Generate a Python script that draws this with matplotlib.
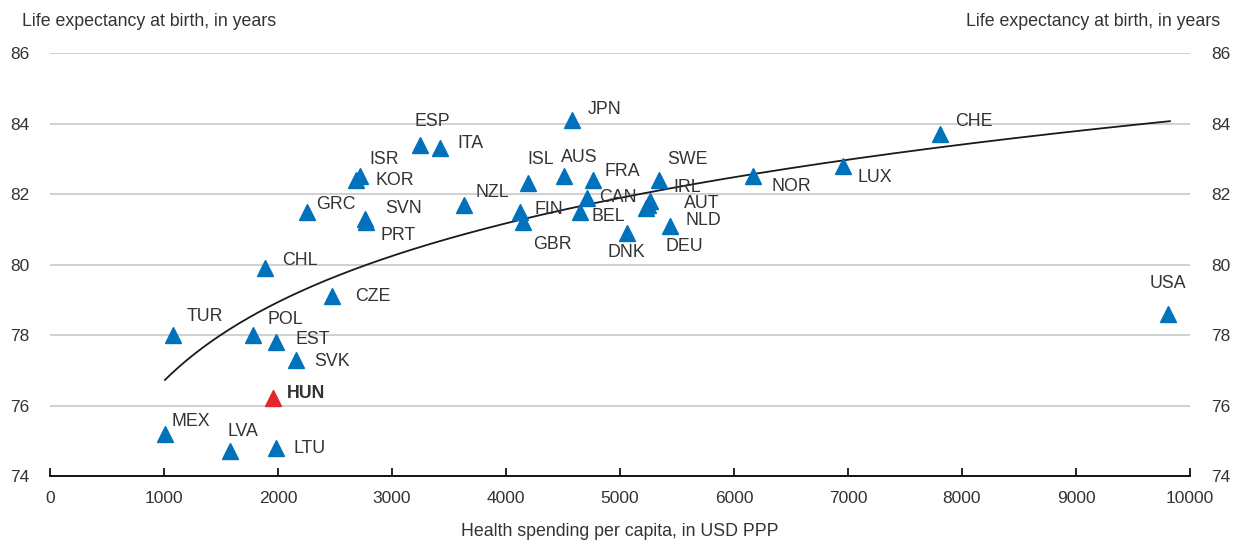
import matplotlib
matplotlib.use("Agg")
import matplotlib.pyplot as plt
import numpy as np

plt.rcParams['font.family'] = ['Liberation Sans', 'DejaVu Sans']

countries = ["MEX", "LVA", "LTU", "HUN", "TUR", "POL", "EST", "SVK", "CHL", "CZE",
             "GRC", "SVN", "PRT", "ISR", "KOR", "ESP", "ITA", "NZL", "ISL", "AUS",
             "JPN", "FRA", "CAN", "BEL", "FIN", "GBR", "DNK", "SWE", "IRL", "AUT",
             "NLD", "DEU", "NOR", "LUX", "CHE", "USA"]
spending = [1009, 1579, 1982, 1956, 1079, 1781, 1982, 2158, 1886, 2474,
            2254, 2763, 2772, 2719, 2684, 3246, 3421, 3632, 4193, 4509,
            4579, 4763, 4711, 4649, 4123, 4149, 5061, 5342, 5263, 5245,
            5228, 5439, 6167, 6956, 7807, 9807]
life_exp = [75.2, 74.7, 74.8, 76.2, 78.0, 78.0, 77.8, 77.3, 79.9, 79.1,
            81.5, 81.3, 81.2, 82.5, 82.4, 83.4, 83.3, 81.7, 82.3, 82.5,
            84.1, 82.4, 81.9, 81.5, 81.5, 81.2, 80.9, 82.4, 81.8, 81.7,
            81.6, 81.1, 82.5, 82.8, 83.7, 78.6]
# label offsets in pixels (dx, dy) from the marker
label_dx = [7, -2, 18, 14, 14, 14, 20, 18, 17, 23,
            9, 20, 15, 9, 20, -6, 17, 11, -1, -3,
            16, 12, 12, 12, 15, 10, -19, 8, 23, 36,
            40, -5, 19, 15, 15, -18]
label_dy = [12, 20, -1, 5, 19, 16, 3, -2, 8, 0,
            7, 10, -13, 17, -1, 23, 5, 12, 24, 19,
            10, 8, 0, -5, 2, -22, -20, 20, 14, 1,
            -12, -21, -10, -12, 13, 30]
highlight = "HUN"

# fitted logarithmic trend: y = a + b*ln(x)
trend_a = 54.42
trend_b = 3.225
trend_range = (1009, 9825)

blue = '#0072BC'
red = '#E3262B'
txt = '#333333'

fig = plt.figure(figsize=(12.34, 5.47), dpi=100)
ax = fig.add_axes([0.0405, 0.1298, 0.9238, 0.7733])
ax.set_xlim(0, 10000)
ax.set_ylim(74, 86)

for yv in range(76, 87, 2):
    ax.axhline(yv, color='#c8c8c8', lw=1.2, zorder=0)

tx = np.linspace(trend_range[0], trend_range[1], 300)
ax.plot(tx, trend_a + trend_b * np.log(tx), color='#1a1a1a', lw=1.3, zorder=2)

for c, x, y, dx, dy in zip(countries, spending, life_exp, label_dx, label_dy):
    col = red if c == highlight else blue
    ax.plot([x], [y], marker='^', ms=11, color=col, mec=col, ls='none', zorder=3)
    ax.annotate(c, (x, y), xytext=(dx, dy), textcoords='offset pixels',
                ha='left', va='center', fontsize=12.8, color=txt,
                fontweight='bold' if c == highlight else 'normal', zorder=4)

for s in ['top', 'left', 'right']:
    ax.spines[s].set_visible(False)
ax.spines['bottom'].set_color('black')
ax.spines['bottom'].set_linewidth(1.3)

ax.set_xticks(range(0, 10001, 1000))
ax.tick_params(axis='x', direction='in', length=6, width=1.2, color='black',
               labelsize=12.5, labelcolor=txt, pad=11)
ax.set_yticks(range(74, 87, 2))
ax.tick_params(axis='y', length=0, labelsize=12.5, labelcolor=txt, pad=15,
               labelleft=True, labelright=True)

ax.set_xlabel("Health spending per capita, in USD PPP", fontsize=12.8, color=txt, labelpad=12)
fig.text(22 / 1234, 1 - 22 / 547, "Life expectancy at birth, in years", ha='left', va='center',
         fontsize=12.8, color=txt)
fig.text(1220 / 1234, 1 - 22 / 547, "Life expectancy at birth, in years", ha='right', va='center',
         fontsize=12.8, color=txt)

fig.savefig("out.png", dpi=100, facecolor='white')
